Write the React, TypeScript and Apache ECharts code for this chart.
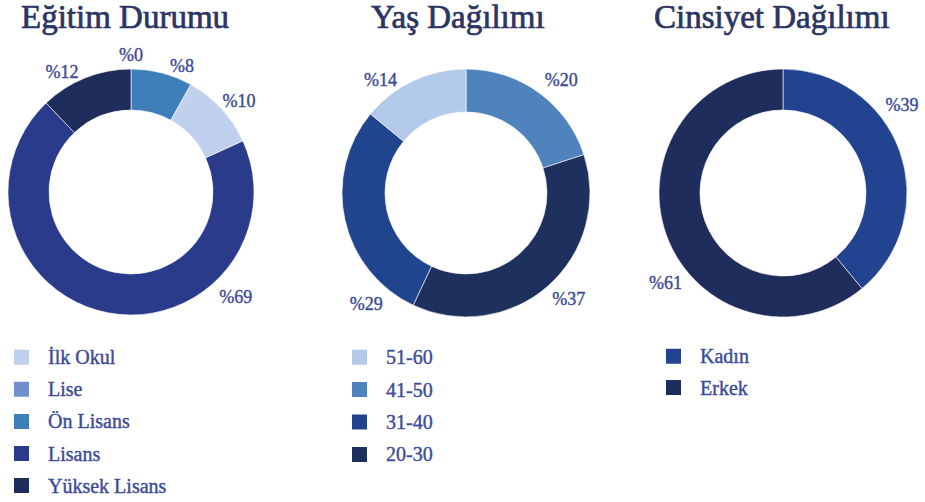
import React, { useEffect, useRef } from "react";
import * as echarts from "echarts";

// ---- Data ----
const eduTitle = "Eğitim Durumu";
const eduNames = ["Lise", "Ön Lisans", "İlk Okul", "Lisans", "Yüksek Lisans"];
const eduValues = [0, 8, 10, 69, 12];
const eduLegend = ["İlk Okul", "Lise", "Ön Lisans", "Lisans", "Yüksek Lisans"];

const ageTitle = "Yaş Dağılımı";
const ageNames = ["41-50", "20-30", "31-40", "51-60"];
const ageValues = [20, 37, 29, 14];
const ageLegend = ["51-60", "41-50", "31-40", "20-30"];

const genTitle = "Cinsiyet Dağılımı";
const genNames = ["Kadın", "Erkek"];
const genValues = [39, 61];
const genLegend = ["Kadın", "Erkek"];

// ---- Styles ----
const colorMap: Record<string, string> = {
  "İlk Okul": "#bfd1ec",
  "Lise": "#7090cc",
  "Ön Lisans": "#3e7fba",
  "Lisans": "#2b3b8b",
  "Yüksek Lisans": "#1e2d5b",
  "51-60": "#b3c9e9",
  "41-50": "#4e83bd",
  "31-40": "#21448e",
  "20-30": "#1d305e",
  "Kadın": "#22438f",
  "Erkek": "#1f2d5c",
};
// label placement (degrees clockwise from 12 o'clock, radius px)
const eduLabelAngle = [0, 22, 50, 135, 330];
const eduLabelRadius = [137, 136, 141, 148, 138];
const ageLabelAngle = [40, 136, 222, 323];
const ageLabelRadius = [148, 148, 149, 142];
const genLabelAngle = [53.5, 232.5];
const genLabelRadius = [148, 148];

const FONT = "'Liberation Serif', serif";
const TITLE_COLOR = "#2b3463";
const TEXT_COLOR = "#3d4a9a";

const pies = [
  { names: eduNames, values: eduValues, center: [131, 192], radius: [82, 123], angles: eduLabelAngle, radii: eduLabelRadius },
  { names: ageNames, values: ageValues, center: [466, 193], radius: [81, 124], angles: ageLabelAngle, radii: ageLabelRadius },
  { names: genNames, values: genValues, center: [783, 193], radius: [83, 124], angles: genLabelAngle, radii: genLabelRadius },
];

export default function App() {
  const ref = useRef<HTMLDivElement>(null);
  useEffect(() => {
    if (!ref.current) return;
    const chart = echarts.init(ref.current, undefined, { renderer: "svg" });

    const titles = [
      { text: eduTitle, left: 21, top: 0 },
      { text: ageTitle, left: 371, top: 0 },
      { text: genTitle, left: 654, top: 0 },
    ].map((t) => ({
      ...t,
      padding: 0,
      textStyle: {
        fontFamily: FONT,
        fontSize: 33,
        fontWeight: "normal",
        color: TITLE_COLOR,
        textBorderColor: TITLE_COLOR,
        textBorderWidth: 0.7,
      },
    }));

    const legendBase = {
      orient: "vertical",
      icon: "rect",
      itemWidth: 17,
      itemHeight: 17,
      padding: 0,
      height: 300,
      selectedMode: false,
      textStyle: {
        fontFamily: FONT,
        fontSize: 20,
        color: TEXT_COLOR,
        textBorderColor: TEXT_COLOR,
        textBorderWidth: 0.4,
        padding: [0, 0, 0, 13],
      },
    };
    const legends = [
      { ...legendBase, data: eduLegend, left: 12, top: 347, itemGap: 11.7 },
      { ...legendBase, data: ageLegend, left: 350, top: 347, itemGap: 12 },
      { ...legendBase, data: genLegend, left: 664, top: 346, itemGap: 11 },
    ];

    const series = pies.map((p) => ({
      type: "pie",
      center: p.center,
      radius: p.radius,
      startAngle: 90,
      clockwise: true,
      avoidLabelOverlap: false,
      itemStyle: { borderColor: "#ffffff", borderWidth: 0.6 },
      label: {
        show: true,
        position: "outside",
        formatter: "%{c}",
        fontFamily: FONT,
        fontSize: 18,
        color: TEXT_COLOR,
        textBorderColor: TEXT_COLOR,
        textBorderWidth: 0.4,
      },
      labelLine: { show: false },
      labelLayout: (params: any) => {
        const i = params.dataIndex;
        const a = (p.angles[i] * Math.PI) / 180;
        return {
          x: p.center[0] + p.radii[i] * Math.sin(a),
          y: p.center[1] - p.radii[i] * Math.cos(a),
          align: "center",
          verticalAlign: "middle",
        };
      },
      data: p.names.map((n, i) => ({ name: n, value: p.values[i], itemStyle: { color: colorMap[n] } })),
    }));

    chart.setOption({
      animation: false,
      backgroundColor: "#ffffff",
      title: titles,
      legend: legends,
      series,
    });
    return () => chart.dispose();
  }, []);
  return (
    <div
      ref={ref}
      style={{ position: "fixed", left: 0, top: 0, width: 925, height: 502 }}
    />
  );
}
